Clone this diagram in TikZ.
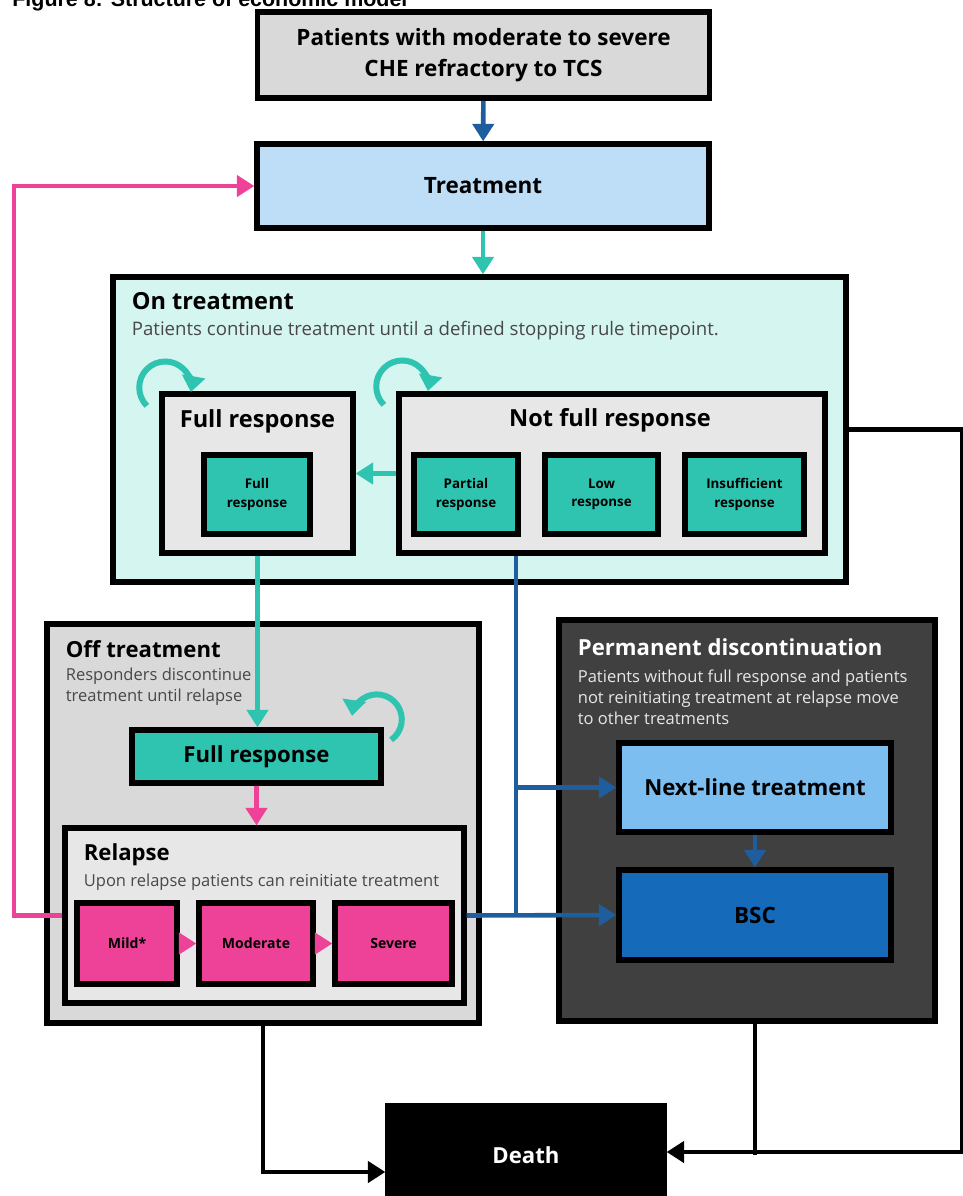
\documentclass[tikz,border=0pt]{standalone}
\usepackage{fontspec}
\setmainfont{Open Sans}
\newfontfamily\figfont{Liberation Sans}
\usetikzlibrary{arrows.meta, positioning}
\definecolor{cegray}{RGB}{217,217,217}
\definecolor{celight}{RGB}{231,231,231}
\definecolor{cetreat}{RGB}{189,222,246}
\definecolor{ceonbg}{RGB}{213,245,240}
\definecolor{ceteal}{RGB}{46,196,176}
\definecolor{cepink}{RGB}{238,66,152}
\definecolor{ceblue}{RGB}{31,94,158}
\definecolor{cenext}{RGB}{125,190,240}
\definecolor{cebsc}{RGB}{22,106,186}
\definecolor{cedark}{RGB}{64,64,64}
\definecolor{cesub}{RGB}{72,72,72}

\begin{document}
\begin{tikzpicture}[every node/.style={inner sep=2pt},
  box/.style={draw=black, line width=3pt, align=center, font=\bfseries\fontsize{12.6}{14}\selectfont},
  smallbox/.style={box, fill=ceteal, font=\bfseries\fontsize{7.6}{10.5}\selectfont},
  relbox/.style={box, fill=cepink, font=\bfseries\fontsize{8}{10}\selectfont},
  head/.style={anchor=west, font=\bfseries\fontsize{12.6}{14}\selectfont},
  sub/.style={anchor=west, align=left, text=cesub, font=\fontsize{9.4}{12}\selectfont},
  link/.style={line width=2.6pt, -{Triangle[length=10pt, width=12pt]}},
  selfloop/.style={line width=3.4pt, ceteal, -{Triangle[length=9pt, width=13pt]}}]
  \useasboundingbox (0,0) rectangle (19.24,-23.92);

  % Caption (cut off at the top)
  \node[anchor=base west, inner sep=0pt, font=\figfont\bfseries\fontsize{12.2}{14}\selectfont] (caption)
    at (0.24,-0.12) {Figure 8: Structure of economic model};

  % Population and treatment
  \node[box, fill=cegray, minimum width=9.04cm, minimum height=1.72cm, line width=3.4pt,
        font=\bfseries\fontsize{12.8}{18}\selectfont] (pop) at (9.67,-1.10)
    {Patients with moderate to severe\\CHE refractory to TCS};
  \node[box, fill=cetreat, minimum width=9.04cm, minimum height=1.68cm,
        font=\bfseries\fontsize{12.8}{14}\selectfont] (treat) at (9.66,-3.72)
    {Treatment};

  % On treatment
  \node[box, fill=ceonbg, minimum width=14.66cm, minimum height=6.10cm] (ontr) at (9.59,-8.59) {};
  \node[head, font=\bfseries\fontsize{13.4}{15}\selectfont] (ontitle) at (2.56,-6.02) {On treatment};
  \node[sub, font=\fontsize{10.6}{12}\selectfont] (onsub) at (2.56,-6.62)
    {Patients continue treatment until a defined stopping rule timepoint.};
  \node[box, fill=celight, minimum width=3.82cm, minimum height=3.18cm] (fullon) at (5.15,-9.47) {};
  \node[font=\bfseries\fontsize{13.4}{15}\selectfont] (fullontitle) at (5.15,-8.42) {Full response};
  \node[box, fill=celight, minimum width=8.52cm, minimum height=3.18cm] (notfull) at (12.24,-9.47) {};
  \node[font=\bfseries\fontsize{13.4}{15}\selectfont] (notfulltitle) at (12.20,-8.40) {Not full response};
  \node[smallbox, minimum width=2.12cm, minimum height=1.58cm] (fr) at (5.14,-9.89) {Full\\response};
  \node[smallbox, minimum width=2.08cm, minimum height=1.58cm] (partial) at (9.32,-9.89) {Partial\\response};
  \node[smallbox, minimum width=2.26cm, minimum height=1.58cm] (low) at (12.03,-9.89) {Low\\response};
  \node[smallbox, minimum width=2.38cm, minimum height=1.58cm] (insuff) at (14.89,-9.89) {Insufficient\\response};

  % Off treatment
  \node[box, fill=cegray, minimum width=8.64cm, minimum height=7.98cm] (offtr) at (5.26,-16.47) {};
  \node[head] (offtitle) at (1.24,-12.98) {Off treatment};
  \node[sub] (offsub) at (1.24,-13.73) {Responders discontinue\\treatment until relapse};
  \node[box, fill=ceteal, minimum width=4.98cm, minimum height=1.06cm] (fulloff) at (5.13,-15.13) {Full response};
  \node[box, fill=celight, minimum width=7.98cm, minimum height=3.50cm] (relapse) at (5.29,-18.31) {};
  \node[head] (reltitle) at (1.60,-17.10) {Relapse};
  \node[sub] (relsub) at (1.60,-17.64) {Upon relapse patients can reinitiate treatment};
  \node[relbox, minimum width=2.00cm, minimum height=1.62cm] (mild) at (2.54,-18.87) {Mild*};
  \node[relbox, minimum width=2.28cm, minimum height=1.62cm] (moderate) at (5.12,-18.87) {Moderate};
  \node[relbox, minimum width=2.34cm, minimum height=1.62cm] (severe) at (7.87,-18.87) {Severe};

  % Permanent discontinuation
  \node[box, fill=cedark, minimum width=7.52cm, minimum height=8.02cm] (permdisc) at (14.94,-16.41) {};
  \node[head, text=white] (permtitle) at (11.48,-12.94) {Permanent discontinuation};
  \node[sub, text=celight] (permsub) at (11.48,-13.94)
    {Patients without full response and patients\\not reinitiating treatment at relapse move\\to other treatments};
  \node[box, fill=cenext, minimum width=5.44cm, minimum height=1.78cm] (nextline) at (15.10,-15.75) {Next-line treatment};
  \node[box, fill=cebsc, minimum width=5.44cm, minimum height=1.80cm,
        font=\bfseries\fontsize{12.8}{14}\selectfont] (bsc) at (15.10,-18.30) {BSC};

  % Death
  \node[box, fill=black, text=white, minimum width=5.52cm, minimum height=1.96cm] (death) at (10.52,-23.10) {Death};

  % Turning points
  \coordinate (pinkturn) at (0.28,-18.31);
  \coordinate (bjunc) at (10.32,-18.30);
  \coordinate (rturn) at (19.25,-8.59);

  % Main flow
  \draw[link, ceblue] (pop) -- (treat);
  \draw[link, ceteal] (treat.south) -- (treat.south |- ontr.north);
  \draw[link, ceteal] (notfull) -- (fullon);
  \draw[link, ceteal] (fullon.south) -- (fullon.south |- fulloff.north);
  \draw[link, cepink] (fulloff.south) -- (fulloff.south |- relapse.north);
  \draw[link, cepink] (mild) -- (moderate);
  \draw[link, cepink] (moderate) -- (severe);

  % Reinitiation
  \draw[link, cepink] (relapse.west) -- (pinkturn) |- (treat.west);

  % To permanent discontinuation
  \draw[line width=2.6pt, ceblue] (notfull.south -| bjunc) -- (bjunc);
  \draw[link, ceblue] (bjunc |- nextline.west) -- (nextline.west);
  \draw[link, ceblue] (relapse.east) -- (bsc.west);
  \draw[link, ceblue] (nextline) -- (bsc);

  % Death
  \draw[link, black] (offtr.south) |- ([yshift=-0.34cm]death.west);
  \draw[link, black] (ontr.east) -- (rturn) |- ([yshift=0.06cm]death.east);
  \draw[line width=2.6pt] (permdisc.south -| nextline) -- (nextline |- death.east);

  % Staying in state
  \draw[selfloop] ([shift={(-0.25,-0.29)}]fullon.north west) arc[start angle=225, end angle=-10, radius=0.52];
  \draw[selfloop] ([shift={(-0.25,-0.27)}]notfull.north west) arc[start angle=225, end angle=-10, radius=0.52];
  \draw[selfloop] ([shift={(0.15,-0.25)}]fulloff.north east) arc[start angle=-55, end angle=172, radius=0.50];
\end{tikzpicture}
\end{document}
